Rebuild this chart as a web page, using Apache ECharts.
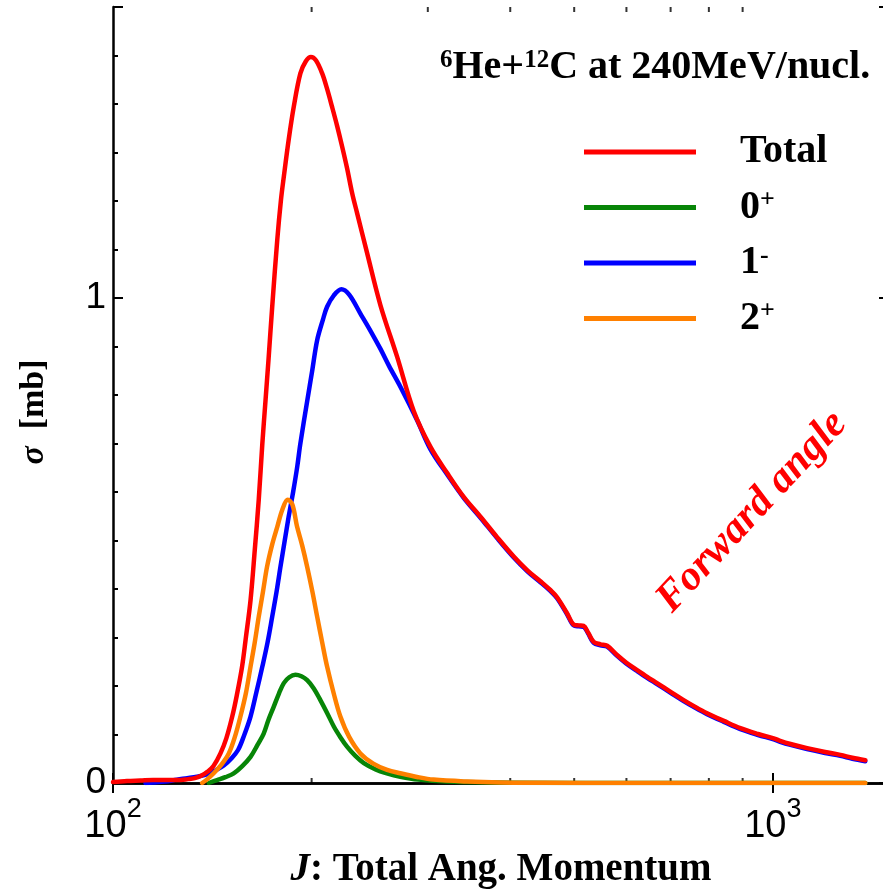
<!DOCTYPE html>
<html><head><meta charset="utf-8">
<script src="https://cdn.jsdelivr.net/npm/echarts@6/dist/echarts.min.js"></script>
<style>html,body{margin:0;padding:0;background:#fff}#c{width:883px;height:893px}</style>
</head><body><div id="c"></div>
<script>
// ---- data ----
const jTotal = [100,105,110,115,120,125,130,133,136,139,142,145.5,148.5,151.6,154,156.9,159,161.6,164,166.3,168.4,170.3,172,174.3,177.4,179.7,181.5,184.6,187.9,192.3,196,199.5,203,207.5,211,214.8,218.6,222.5,226.3,230.4,234.4,242.8,254.3,269.5,285.6,302.8,321,340,360.5,382,404.9,425,444.4,460,471,487.7,499,508,516.7,525,535.2,548,560.9,580.7,600,622.6,645,667.6,700,732.5,763,795,843,893,950,1003,1026,1060,1127,1200,1266,1320,1381];
const sTotal = [0.002,0.004,0.005,0.006,0.006,0.006,0.008,0.010,0.015,0.023,0.035,0.061,0.092,0.137,0.180,0.240,0.300,0.377,0.480,0.584,0.700,0.790,0.870,0.982,1.120,1.202,1.250,1.326,1.394,1.463,1.488,1.497,1.490,1.463,1.432,1.394,1.355,1.312,1.268,1.216,1.175,1.092,0.985,0.879,0.767,0.693,0.639,0.590,0.549,0.507,0.467,0.438,0.416,0.398,0.383,0.350,0.327,0.325,0.324,0.310,0.291,0.286,0.283,0.264,0.248,0.233,0.219,0.206,0.188,0.171,0.157,0.144,0.128,0.113,0.101,0.092,0.087,0.081,0.072,0.064,0.058,0.052,0.047];

const jBlue = [112,115,120,125,129.6,134,138.9,143,147.2,151,154.7,158,161.6,165,168.4,171.5,174.3,177,179.4,182,184.6,187.5,190.2,192.3,196.9,200.5,203.9,208,211.1,216,221.9,228,237.1,245,254.3,262,272.6,289,302.8,321,340,360.5,382,404.9,425,444.4,460,471,487.7,499,508,516.7,525,535.2,548,560.9,580.7,600,622.6,645,667.6,700,732.5,763,795,843,893,950,1003,1026,1060,1127,1200,1266,1320,1381];
const sBlue = [0,0.001,0.003,0.007,0.010,0.013,0.018,0.026,0.036,0.050,0.068,0.098,0.137,0.188,0.240,0.290,0.343,0.395,0.446,0.498,0.549,0.600,0.652,0.700,0.787,0.852,0.913,0.955,0.982,1.005,1.018,1.007,0.968,0.935,0.895,0.860,0.817,0.748,0.688,0.636,0.588,0.547,0.505,0.465,0.436,0.414,0.396,0.381,0.348,0.325,0.323,0.322,0.308,0.289,0.284,0.281,0.262,0.246,0.231,0.217,0.204,0.186,0.169,0.155,0.142,0.126,0.111,0.099,0.090,0.085,0.079,0.070,0.062,0.056,0.050,0.045];

const jOrange = [136.5,139,142.1,146,149.8,153,156,159,161.6,164,166.3,168.8,171.2,174.3,177.4,180.5,184,187,190,193.5,196.9,200.5,203.9,207.5,211.1,216,221.1,228,237.1,248,260.3,272.6,290,306,344,386,450,600,800,1000,1381];
const sOrange = [0,0.008,0.020,0.038,0.061,0.095,0.137,0.185,0.240,0.290,0.343,0.395,0.446,0.492,0.528,0.563,0.584,0.574,0.530,0.490,0.446,0.395,0.343,0.290,0.240,0.185,0.137,0.095,0.061,0.040,0.027,0.020,0.012,0.007,0.003,0.001,0.0005,0,0,0,0];

const jGreen = [139.7,143.8,148,152.4,157,161.6,165.5,169.2,172,175.2,178.5,181.5,185,189,193,196.9,201.5,206.2,211,216.2,221,226.3,233,240,250,260,272.6,290,320,400,600,1000,1381];
const sGreen = [0,0.006,0.012,0.020,0.035,0.054,0.078,0.102,0.130,0.157,0.185,0.206,0.218,0.223,0.220,0.212,0.195,0.171,0.145,0.116,0.095,0.075,0.056,0.041,0.028,0.020,0.013,0.007,0.003,0.0005,0,0,0];

const seriesNames = ['Total', '0+', '1-', '2+'];
const legendLabels = {'Total': 'Total', '0+': '0{sup|+}', '1-': '1{sup|-}', '2+': '2{sup|+}'};
const xMin = 100, xMax = 1500, yMin = 0, yMax = 1.6;
const xMajorTicks = {100: '{b|10}{sup|2}', 1000: '{b|10}{sup|3}'};
const yMajorTicks = {0: '0', 1: '1'};
const xMinorTicks = [200, 300, 400, 500, 600, 700, 800, 900];

// ---- chart ----
const zip = (a, b) => a.map((v, i) => [v, b[i]]);
const serif = '"Liberation Serif","Times New Roman",serif';
const sans = '"Liberation Sans",Arial,sans-serif';
const black = '#000';

const chart = echarts.init(document.getElementById('c'), null, {renderer: 'canvas'});

function lineSeries(name, j, s, color, z) {
  return {
    type: 'line', name, data: zip(j, s), showSymbol: false, symbol: 'none',
    smooth: 0.35, color: color, itemStyle: {color: color},
    lineStyle: {color: color, width: 4.5, join: 'round', cap: 'round'}, z: z, silent: true
  };
}

const xAxisCommon = {
  type: 'log', logBase: 10, min: xMin, max: xMax,
  axisLine: {show: true, lineStyle: {color: black, width: 2.5}},
  axisTick: {show: true, inside: true, length: 10, lineStyle: {color: black, width: 2}},
  splitLine: {show: false}, minorTick: {show: false}, minorSplitLine: {show: false}
};
const yAxisCommon = {
  type: 'value', min: yMin, max: yMax, interval: 1,
  axisLine: {show: true, lineStyle: {color: black, width: 2.5}},
  axisTick: {show: true, inside: true, length: 10, lineStyle: {color: black, width: 2}},
  minorTick: {show: true, splitNumber: 10, length: 5, lineStyle: {color: black, width: 2}},
  splitLine: {show: false}, minorSplitLine: {show: false}
};

const option = {
  animation: false,
  backgroundColor: '#fff',
  grid: {left: 113, top: 7, width: 776, height: 776, containLabel: false, outerBoundsMode: 'none'},
  title: {
    text: '{sup|6}He+{sup|12}C at 240MeV/nucl.',
    left: 440, top: 48, padding: 0,
    textStyle: {
      fontFamily: serif, fontWeight: 'bold', fontSize: 40, color: black,
      rich: {sup: {fontFamily: serif, fontWeight: 'bold', fontSize: 25, color: black, verticalAlign: 'top', lineHeight: 4}}
    }
  },
  legend: {
    data: seriesNames, orient: 'vertical', left: 584, top: 132, padding: 0,
    itemWidth: 112, itemHeight: 5, itemGap: 15.5, icon: 'rect', selectedMode: false,
    formatter: name => legendLabels[name],
    textStyle: {
      fontFamily: serif, fontWeight: 'bold', fontSize: 40, color: black, lineHeight: 40, padding: [0, 0, 0, 39],
      rich: {sup: {fontFamily: serif, fontWeight: 'bold', fontSize: 26, color: black, verticalAlign: 'top', lineHeight: 2}}
    }
  },
  xAxis: [
    Object.assign({}, xAxisCommon, {
      position: 'bottom',
      axisLabel: {
        show: true, margin: 25, color: black, fontFamily: sans, fontSize: 38,
        formatter: v => xMajorTicks[Math.round(v)] || '',
        rich: {
          b: {fontFamily: sans, fontSize: 38, color: black, lineHeight: 38, verticalAlign: 'bottom'},
          sup: {fontFamily: sans, fontSize: 27, color: black, lineHeight: 27, verticalAlign: 'bottom', padding: [0, 0, 23, 0]}
        }
      },
      name: '{i|J}: Total Ang. Momentum', nameLocation: 'middle', nameGap: 67,
      nameTextStyle: {
        fontFamily: serif, fontWeight: 'bold', fontSize: 39, color: black,
        rich: {i: {fontFamily: serif, fontWeight: 'bold', fontStyle: 'italic', fontSize: 39, color: black}}
      }
    }),
    Object.assign({}, xAxisCommon, {position: 'top', axisLabel: {show: false}})
  ],
  yAxis: [
    Object.assign({}, yAxisCommon, {
      position: 'left',
      axisLabel: {
        show: true, margin: 7, color: black, fontFamily: sans, fontSize: 37,
        formatter: v => (yMajorTicks[v] !== undefined ? yMajorTicks[v] : '')
      },
      name: '{i|σ}  [mb]', nameLocation: 'middle', nameGap: 62,
      nameTextStyle: {
        fontFamily: serif, fontWeight: 'bold', fontSize: 34, color: black, padding: [0, 34, 0, 0],
        rich: {i: {fontFamily: serif, fontWeight: 'bold', fontStyle: 'italic', fontSize: 34, color: black}}
      }
    }),
    Object.assign({}, yAxisCommon, {position: 'right', axisLabel: {show: false}})
  ],
  graphic: [{
    type: 'text', x: 752, y: 512, rotation: 0.82, silent: true,
    style: {
      text: 'Forward angle', fill: '#ff0000',
      font: 'italic bold 42px "Liberation Serif", serif',
      align: 'center', verticalAlign: 'middle', textAlign: 'center', textVerticalAlign: 'middle'
    }
  }],
  series: [
    {
      type: 'scatter', name: 'minorBottom', data: xMinorTicks.map(v => [v, yMin]),
      symbol: 'rect', symbolSize: [2, 5], symbolOffset: [0, -2.5],
      itemStyle: {color: black}, z: 1, silent: true, clip: false
    },
    {
      type: 'scatter', name: 'minorTop', data: xMinorTicks.map(v => [v, yMax]),
      symbol: 'rect', symbolSize: [2, 5], symbolOffset: [0, 2.5],
      itemStyle: {color: black}, z: 1, silent: true, clip: false
    },
    lineSeries('0+', jGreen, sGreen, '#078507', 3),
    lineSeries('1-', jBlue, sBlue, '#0000ff', 4),
    lineSeries('2+', jOrange, sOrange, '#ff8000', 5),
    lineSeries('Total', jTotal, sTotal, '#ff0000', 6)
  ]
};
chart.setOption(option);
</script>
</body></html>
